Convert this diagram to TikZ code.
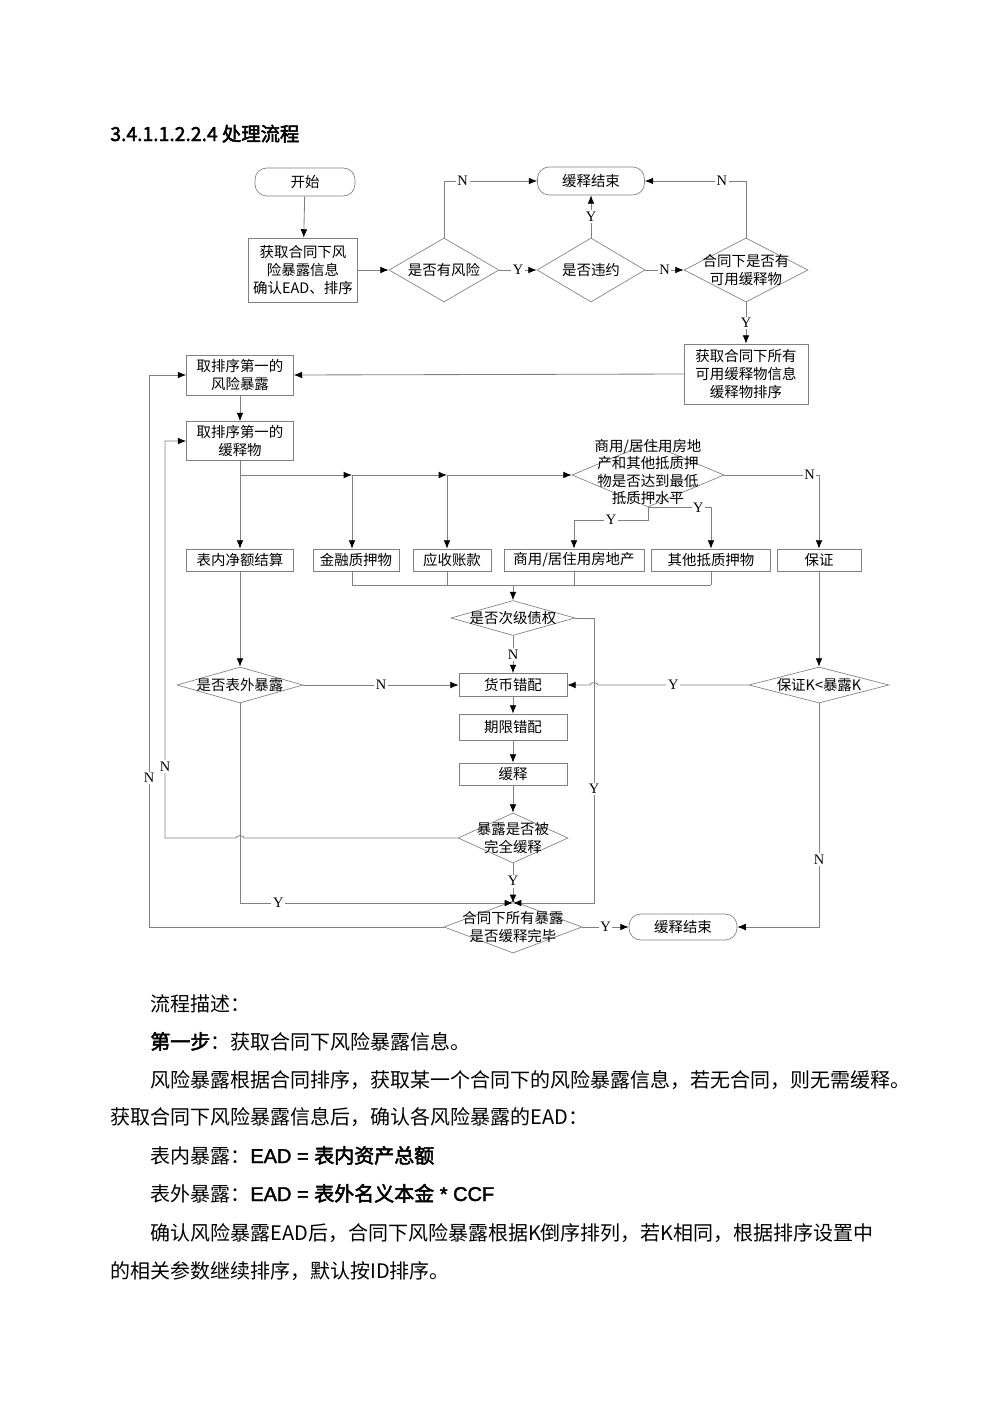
\documentclass[tikz,border=0pt]{standalone}
\usepackage{fontspec}
\setmainfont{Noto Sans CJK SC}
\newfontfamily\lser{Liberation Serif}
\newfontfamily\lsans{Liberation Sans}[FakeBold=2]
\newfontfamily\cjkb{Noto Sans CJK SC}[FakeBold=2.5]
\usetikzlibrary{shapes.geometric,arrows.meta}
\definecolor{ln}{RGB}{128,128,128}
\begin{document}
\begin{tikzpicture}[x=0.595pt,y=-0.595pt,
  every node/.style={font=\fontsize{8.6}{10.5}\selectfont,align=center,inner sep=0pt},
  bx/.style 2 args={draw=ln,rectangle,minimum width=#1*0.595pt,minimum height=#2*0.595pt},
  rbx/.style 2 args={bx={#1}{#2},rounded corners=7pt},
  dia/.style 2 args={draw=ln,diamond,minimum width=#1*0.595pt,minimum height=#2*0.595pt},
  l/.style={draw=ln,line width=0.5pt},
  a/.style={l,-{Latex[length=5pt,width=4pt,color=black]}},
  lb/.style={fill=white,inner sep=1pt,font=\lser\fontsize{8.6}{10}\selectfont},
  bt/.style={anchor=base west,font=\fontsize{11.9}{14}\selectfont}]
\useasboundingbox (0,0) rectangle (1000,1415);
\node[anchor=base west,font=\cjkb\fontsize{11.5}{14}\selectfont] (title) at (110,141) {3.4.1.1.2.2.4 处理流程};
% nodes
\node[rbx={100}{28}] (start) at (305,182) {开始};
\node[rbx={107}{28}] (end1) at (591,181) {缓释结束};
\node[bx={109}{64}] (b1) at (303,270) {获取合同下风\\险暴露信息\\确认EAD、排序};
\node[dia={110}{64}] (d1) at (444,270) {}; \node at (d1) {是否有风险};
\node[dia={108}{64}] (d2) at (591,270) {}; \node at (d2) {是否违约};
\node[dia={124}{64}] (d3) at (746,270) {}; \node at (d3) {合同下是否有\\可用缓释物};
\node[bx={124}{60}] (b2) at (746,374) {获取合同下所有\\可用缓释物信息\\缓释物排序};
\node[bx={107}{40}] (r1) at (240,375) {取排序第一的\\风险暴露};
\node[bx={107}{39}] (r2) at (240,441) {取排序第一的\\缓释物};
\node[dia={152}{64}] (d4) at (648,475) {}; \node at (648,472) {商用/居住用房地\\产和其他抵质押\\物是否达到最低\\抵质押水平};
\node[bx={107}{22}] (net) at (240,560) {表内净额结算};
\node[bx={86}{22}] (fin) at (356,560) {金融质押物};
\node[bx={78}{22}] (rec) at (452,560) {应收账款};
\node[bx={140}{22}] (com) at (574,560) {商用/居住用房地产};
\node[bx={119}{22}] (oth) at (711,560) {其他抵质押物};
\node[bx={84}{22}] (gua) at (819,560) {保证};
\node[dia={124}{35}] (d5) at (513,618) {}; \node at (d5) {是否次级债权};
\node[dia={126}{36}] (d6) at (240,685) {}; \node at (d6) {是否表外暴露};
\node[bx={108}{23}] (cur) at (513,685) {货币错配};
\node[dia={140}{36}] (d8) at (819,685) {}; \node at (d8) {保证K<暴露K};
\node[bx={108}{26}] (term) at (513,727) {期限错配};
\node[bx={108}{22}] (rel) at (513,774) {缓释};
\node[dia={110}{50}] (d9) at (513,838) {}; \node at (d9) {暴露是否被\\完全缓释};
\node[dia={138}{52}] (d7) at (513,927) {}; \node at (d7) {合同下所有暴露\\是否缓释完毕};
\node[rbx={108}{26}] (end2) at (683,927) {缓释结束};
% coordinates
\coordinate (j0) at (240,475);
\coordinate (ja) at (352,475);
\coordinate (jb) at (447,475);
\coordinate (jy) at (648,520);
\coordinate (cl) at (352,585);
\coordinate (cr) at (711,585);
\coordinate (cm) at (513,585);
\coordinate (jt) at (513,903);
% connectors
\draw[a] (start) -- (b1);
\draw[a] (b1.east) -- (d1.west);
\draw[a] (d1.north) |- node[lb,pos=0.6]{N} (end1.west);
\draw[a] (d1.east) -- node[lb]{Y} (d2.west);
\draw[a] (d2.north) -- node[lb]{Y} (end1.south);
\draw[a] (d2.east) -- node[lb]{N} (d3.west);
\draw[a] (d3.north) |- node[lb,pos=0.62]{N} (end1.east);
\draw[a] (d3.south) -- node[lb]{Y} (b2.north);
\draw[a] (b2.west) -- (r1.east);
\draw[a] (r1) -- (r2);
\draw[a] (r2.south) -- (net.north);
\draw[a] (j0) -- (ja);
\draw[a] (ja) -- (jb);
\draw[a] (jb) -- (d4.west);
\draw[a] (ja) -- (ja |- fin.north);
\draw[a] (jb) -- (jb |- rec.north);
\draw[a] (d4.south) -- (jy) -| node[lb,pos=0.25]{Y} (com.north);
\draw[a] (d4.south) -| node[lb,pos=0.4]{Y} (oth.north);
\draw[a] (d4.east) -| node[lb,pos=0.45]{N} (gua.north);
\draw[l] (ja |- fin.south) -- (cl);
\draw[l] (jb |- rec.south) -- (jb |- cl);
\draw[l] (com.south) -- (com.south |- cl);
\draw[l] (oth.south) -- (cr);
\draw[l] (cl) -- (cr);
\draw[a] (cm) -- (d5.north);
\draw[a] (d5.south) -- node[lb]{N} (cur.north);
\draw[a] (d5.east) -- (594,618) -- node[lb,pos=0.6]{Y} (594,903) -- (jt);
\draw[a] (net) -- (d6.north);
\draw[a] (d6.east) -- node[lb]{N} (cur.west);
\draw[a] (gua) -- (d8.north);
\draw[a] (d8.west) -- node[lb]{Y} (598,685) to[out=90,in=90] (590,685) -- (cur.east);
\draw[a] (cur) -- (term);
\draw[a] (term) -- (rel);
\draw[a] (rel) -- (d9.north);
\draw[a] (d9.west) -- (244,838) to[out=90,in=90] (236,838) -- (165,838) -- node[lb,pos=0.18]{N} (165,441) -- (r2.west);
\draw[a] (d9.south) -- node[lb,pos=0.45]{Y} (jt);
\draw[a] (d6.south) -- (240,903) -- node[lb,pos=0.14]{Y} (jt);
\draw[a] (d7.west) -- (149,927) -- node[lb,pos=0.27]{N} (149,375) -- (r1.west);
\draw[a] (d7.east) -- node[lb]{Y} (end2.west);
\draw[a] (d8.south) -- node[lb,pos=0.7]{N} (819,927) -- (end2.east);
% body text
\node[bt] (p0) at (150,1011) {流程描述：};
\node[bt] (p1) at (150,1049) {{\cjkb 第一步}：获取合同下风险暴露信息。};
\node[bt] (p2) at (150,1087) {风险暴露根据合同排序，获取某一个合同下的风险暴露信息，若无合同，则无需缓释。};
\node[bt] (p3) at (110,1124) {获取合同下风险暴露信息后，确认各风险暴露的EAD：};
\node[bt] (p4) at (150,1163) {表内暴露：{\lsans EAD = }{\cjkb 表内资产总额}};
\node[bt] (p5) at (150,1201) {表外暴露：{\lsans EAD = }{\cjkb 表外名义本金}{\lsans\ * CCF}};
\node[bt] (p6) at (150,1240) {确认风险暴露EAD后，合同下风险暴露根据K倒序排列，若K相同，根据排序设置中};
\node[bt] (p7) at (110,1278) {的相关参数继续排序，默认按ID排序。};
\end{tikzpicture}
\end{document}
